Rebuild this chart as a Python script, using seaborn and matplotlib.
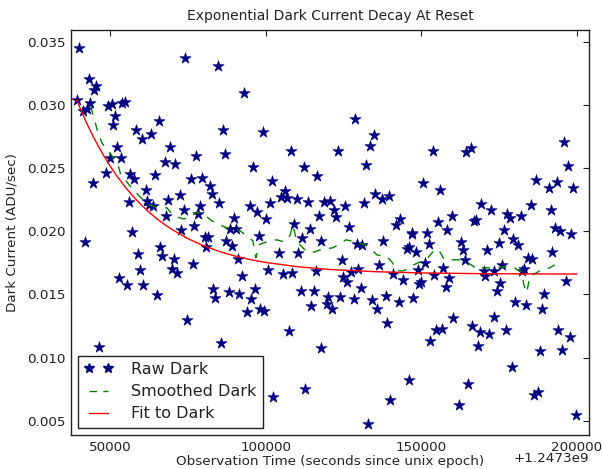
import numpy as np
import pandas as pd
import matplotlib
matplotlib.use("Agg")
import matplotlib.pyplot as plt
from matplotlib.lines import Line2D
from matplotlib.ticker import ScalarFormatter
import seaborn as sns

# ---------------- data (time in ks after offset, dark current in 1e-3 ADU/sec) -------------
time_offset = 1.2473e9

raw_time_ks = [
    40.14, 74.08, 84.58, 93.19, 43.16, 45.51, 44.96, 39.31, 41.43, 42.52, 43.68, 49.26, 50.55, 53.95, 54.82,
    51.70, 51.06, 65.64, 58.25, 60.18, 63.26, 86.38, 86.83, 52.25, 69.27, 49.90, 53.53, 77.71, 67.57, 70.97,
    48.72, 44.45, 56.42, 57.71, 64.35, 76.01, 79.45, 82.11, 82.66, 61.46, 72.38, 85.10, 56.01, 61.88, 62.52,
    63.71, 68.72, 78.90, 73.67, 78.26, 68.08, 77.07, 89.72, 88.53, 90.36, 57.16, 72.70,
    128.67, 99.03, 134.77, 133.49, 108.02, 123.11, 132.30, 95.82, 112.29, 116.56, 101.92, 106.19, 105.01,
    106.74, 109.95, 135.19, 137.24, 139.59, 94.96, 101.47, 113.58, 118.81, 120.74, 125.56, 131.66, 97.20,
    122.02, 100.00, 117.01, 122.57, 141.84, 143.22, 114.12, 126.74, 146.88, 109.08,
    195.88, 153.62, 164.31, 165.82, 197.29, 150.41, 155.96, 186.89, 191.19, 193.63, 198.89, 169.23, 172.44,
    185.09, 191.61, 177.57, 178.44, 181.88, 159.72, 155.42, 166.98, 167.68, 158.21, 151.69, 176.51, 192.99,
    194.59, 198.25,
    41.97, 80.41, 81.47, 80.83, 87.25, 89.27, 91.01, 92.29, 66.06, 59.09, 66.70, 70.55, 76.56, 59.63, 69.81,
    71.61, 52.89, 55.46, 60.69, 65.19, 83.17, 83.62, 88.21, 91.52, 74.63, 46.37, 85.55,
    97.75, 111.65, 117.85, 104.36, 110.46, 124.40, 129.41, 131.01, 137.76, 145.27, 146.17, 147.07, 148.26,
    136.47, 100.83, 105.65, 108.54, 116.15, 127.39, 129.73, 140.97, 143.99, 124.91, 126.01, 130.60, 96.56,
    95.28, 111.23, 115.51, 120.10, 123.85, 128.25, 134.03, 138.53, 142.80, 147.39, 114.64, 119.58, 121.38,
    135.83, 98.17, 99.55, 93.89, 138.85, 107.48, 117.75, 146.11, 112.71, 102.44, 140.01, 132.94,
    152.34, 162.61, 163.25, 174.81, 179.40, 181.01, 171.06, 192.15, 184.32, 185.60, 163.99, 151.24, 157.02,
    148.80, 154.13, 158.85, 170.00, 170.41, 173.21, 175.97, 182.20, 182.94, 149.77, 149.22, 157.79, 175.33,
    174.17, 196.52, 189.36, 179.95, 183.68, 188.72, 160.23, 173.40, 166.34, 168.71, 171.60, 177.16, 194.08,
    197.71, 154.58, 156.51, 152.75, 168.17, 187.98, 195.36, 179.08, 164.86, 186.24, 187.53, 161.97, 199.73,
]
raw_dark_milli = [
    34.53, 33.74, 33.09, 30.97, 32.03, 31.53, 31.16, 30.40, 29.55, 29.71, 30.16, 29.90, 30.06, 30.18, 30.24,
    29.11, 28.42, 28.71, 28.00, 27.31, 27.71, 28.05, 26.15, 26.66, 26.66, 25.83, 25.83, 25.99, 25.47, 25.31,
    24.62, 23.85, 24.52, 24.12, 24.44, 24.17, 24.25, 23.59, 22.98, 23.25, 22.83, 22.27, 22.35, 22.43, 22.09,
    21.96, 22.51, 22.01, 21.72, 21.40, 21.24, 20.45, 21.01, 20.19, 20.19, 19.96, 20.09,
    28.89, 27.84, 27.63, 26.78, 26.39, 26.39, 25.28, 25.10, 25.10, 24.38, 23.99, 23.20, 22.72,
    22.67, 22.59, 22.98, 22.59, 22.80, 21.96, 22.23, 22.30, 22.35, 22.38, 21.96, 22.23, 21.56,
    21.67, 20.96, 21.24, 21.09, 20.51, 20.96, 20.19, 20.30, 19.90, 20.55,
    27.05, 26.39, 26.26, 26.58, 25.15, 23.83, 23.25, 24.04, 23.46, 23.91, 23.41, 22.15, 21.67,
    22.09, 21.67, 21.40, 21.04, 21.24, 21.17, 20.75, 20.83, 20.87, 20.11, 19.90, 20.06, 20.25,
    19.98, 19.80,
    19.11, 19.58, 19.54, 18.75, 19.24, 18.87, 17.84, 16.42, 18.79, 18.21, 18.06, 17.80, 17.42, 16.95, 17.03,
    16.71, 16.29, 15.76, 15.74, 14.95, 15.45, 14.73, 15.19, 15.03, 12.99, 10.80, 11.12,
    19.64, 19.46, 19.24, 18.27, 18.27, 17.74, 18.98, 18.93, 19.24, 18.61, 18.73, 19.77, 18.32,
    17.34, 16.95, 16.61, 16.71, 16.89, 16.74, 17.00, 16.63, 16.16, 16.34, 16.00, 15.50, 15.45,
    14.66, 15.26, 15.26, 14.81, 14.79, 14.60, 14.52, 14.84, 14.39, 14.73, 14.08, 14.26, 13.86,
    13.84, 13.86, 13.71, 13.60, 12.73, 12.07, 10.76, 8.25, 7.54, 6.88, 6.67, 4.74,
    19.01, 19.14, 18.48, 19.06, 19.35, 18.93, 18.53, 18.35, 17.90, 17.82, 17.74, 17.48, 17.08,
    16.95, 16.50, 16.29, 16.89, 16.42, 16.87, 17.29, 16.82, 17.00, 15.98, 15.84, 15.58, 15.90,
    15.23, 16.08, 15.05, 14.36, 14.18, 13.81, 13.15, 13.21, 12.50, 12.05, 11.86, 12.15, 12.15,
    11.59, 12.15, 12.26, 11.28, 10.94, 10.54, 10.62, 9.25, 7.88, 7.06, 7.24, 6.22, 5.42,
]

smooth_time_ks = [
    43.80, 44.86, 46.15, 47.43, 49.04, 50.64, 51.93, 52.89, 53.53, 55.14, 56.42, 58.03, 59.63, 61.24, 62.84,
    64.45, 66.70, 68.30, 69.91, 71.51, 73.44, 75.69, 77.94, 79.54, 81.15, 82.75, 84.36, 85.96, 87.57, 89.17,
    90.78, 92.71, 94.31, 95.92, 96.88, 97.84, 99.45, 101.38, 103.62, 105.87, 107.80, 108.76, 109.72, 111.01,
    112.61, 114.22, 115.83, 117.43, 119.36, 121.61, 123.85, 125.78, 127.39, 129.31, 130.92, 132.53, 134.13,
    135.73, 137.34, 138.94, 140.55, 141.83, 143.12, 144.40, 146.01, 147.61, 148.90, 150.50, 152.11, 153.72,
    155.00, 155.96, 157.25, 158.53, 160.14, 161.74, 163.35, 164.95, 166.56, 168.16, 169.77, 171.38, 172.98,
    174.59, 176.19, 177.80, 179.40, 181.01, 182.29, 182.94, 183.90, 184.86, 186.47, 188.07, 189.68, 191.28,
    192.89,
]
smooth_dark_milli = [
    29.87, 28.97, 27.79, 27.00, 26.44, 25.97, 25.49, 25.02, 24.38, 23.99, 23.59, 23.20, 22.72, 22.41, 22.09,
    21.93, 21.85, 21.85, 21.38, 21.14, 20.98, 21.06, 21.54, 21.22, 21.14, 20.82, 20.67, 20.43, 20.27, 20.27,
    20.19, 19.87, 19.56, 19.24, 17.90, 18.93, 19.08, 19.24, 19.32, 19.16, 19.64, 20.51, 19.48, 18.93,
    18.53, 18.29, 18.37, 18.53, 18.61, 18.69, 19.00, 19.32, 19.24, 19.08, 19.00, 18.85, 18.53,
    18.13, 18.06, 17.98, 17.58, 16.95, 16.87, 16.87, 17.11, 17.34, 17.50, 17.58, 17.90, 18.37,
    18.61, 18.37, 17.82, 17.66, 17.74, 17.74, 17.66, 17.50, 17.26, 16.95, 17.11, 17.11, 17.03,
    17.11, 17.19, 17.19, 17.19, 16.95, 16.79, 15.76, 15.13, 16.47, 16.63, 16.87, 16.95, 17.11,
    17.34,
]

fit_time_ks = [39.31, 40.5, 42, 43.5, 45, 46.5, 48, 50, 52, 55, 57.5, 60, 62.5, 65, 67.5, 70, 75, 80,
               85, 90, 95, 100, 110, 120, 135, 150, 170, 200]
fit_dark_milli = [30.40, 29.69, 28.84, 28.06, 27.32, 26.63, 25.98, 25.18, 24.45, 23.47, 22.75, 22.10, 21.52,
                  21.00, 20.54, 20.13, 19.42, 18.86, 18.41, 18.05, 17.76, 17.53, 17.20, 16.98, 16.80, 16.70,
                  16.64, 16.61]

x_tick_values = [50000, 100000, 150000, 200000]
y_tick_values = [0.005, 0.010, 0.015, 0.020, 0.025, 0.030, 0.035]

title = "Exponential Dark Current Decay At Reset"
x_label = "Observation Time (seconds since unix epoch)"
y_label = "Dark Current (ADU/sec)"
labels = ["Raw Dark", "Smoothed Dark", "Fit to Dark"]

# ---------------- tables -------------
raw = pd.DataFrame({"t": time_offset + np.array(raw_time_ks) * 1000.0,
                    "d": np.array(raw_dark_milli) * 1e-3})
smooth = pd.DataFrame({"t": time_offset + np.array(smooth_time_ks) * 1000.0,
                       "d": np.array(smooth_dark_milli) * 1e-3})
fit = pd.DataFrame({"t": time_offset + np.array(fit_time_ks) * 1000.0,
                    "d": np.array(fit_dark_milli) * 1e-3})

# ---------------- style -------------
sns.set_style("white")
plt.rcParams["font.family"] = ["DejaVu Sans"]
plt.rcParams["text.color"] = "#222222"
plt.rcParams["xtick.color"] = "#222222"
plt.rcParams["ytick.color"] = "#222222"

STAR = "#000080"
GREEN = "#008000"
RED = "#ff0000"

fig = plt.figure(figsize=(6.02, 4.69), dpi=100)
ax = fig.add_axes([0.118, 0.0725, 0.860, 0.8635])

sns.scatterplot(data=raw, x="t", y="d", ax=ax, marker="*", s=72, color=STAR,
                edgecolor=STAR, linewidth=0.4, zorder=3, legend=False)
sns.lineplot(data=smooth, x="t", y="d", ax=ax, color=GREEN, linewidth=1.0,
             estimator=None, sort=False, zorder=4, legend=False)
ax.lines[-1].set_dashes([6, 6])
sns.lineplot(data=fit, x="t", y="d", ax=ax, color=RED, linewidth=1.0,
             estimator=None, sort=False, zorder=5, legend=False)

ax.set_xlim(time_offset + 37500, time_offset + 203800)
ax.set_ylim(0.00387, 0.03593)
ax.set_xticks([time_offset + v for v in x_tick_values])
ax.set_yticks(y_tick_values)
fmt = ScalarFormatter(useOffset=time_offset)
ax.xaxis.set_major_formatter(fmt)
ax.xaxis.OFFSETTEXTPAD = -1

ax.tick_params(direction="in", length=4, width=0.8, top=True, right=True,
               labelsize=9.7, pad=4)
ax.xaxis.get_offset_text().set_fontsize(9.7)
for sp in ax.spines.values():
    sp.set_color("#222222")
    sp.set_linewidth(1.0)

ax.set_title(title, fontsize=10, pad=7)
ax.set_xlabel(x_label, fontsize=9.7, labelpad=1)
ax.set_ylabel(y_label, fontsize=9.7, labelpad=6)

handles = [
    Line2D([], [], linestyle="none", marker="*", markersize=7.5, color=STAR, markeredgecolor=STAR),
    Line2D([], [], linestyle=(0, (5.5, 4.5)), color=GREEN, linewidth=1.0),
    Line2D([], [], linestyle="-", color=RED, linewidth=1.0),
]
leg = ax.legend(handles, labels, loc="lower left", numpoints=2, fontsize=11.5,
                fancybox=False, framealpha=1, edgecolor="#222222",
                handlelength=1.75, handletextpad=1.15, borderaxespad=0.45,
                labelspacing=0.45, borderpad=0.4)
leg.get_frame().set_linewidth(1.0)

fig.savefig("out.png", dpi=100)
